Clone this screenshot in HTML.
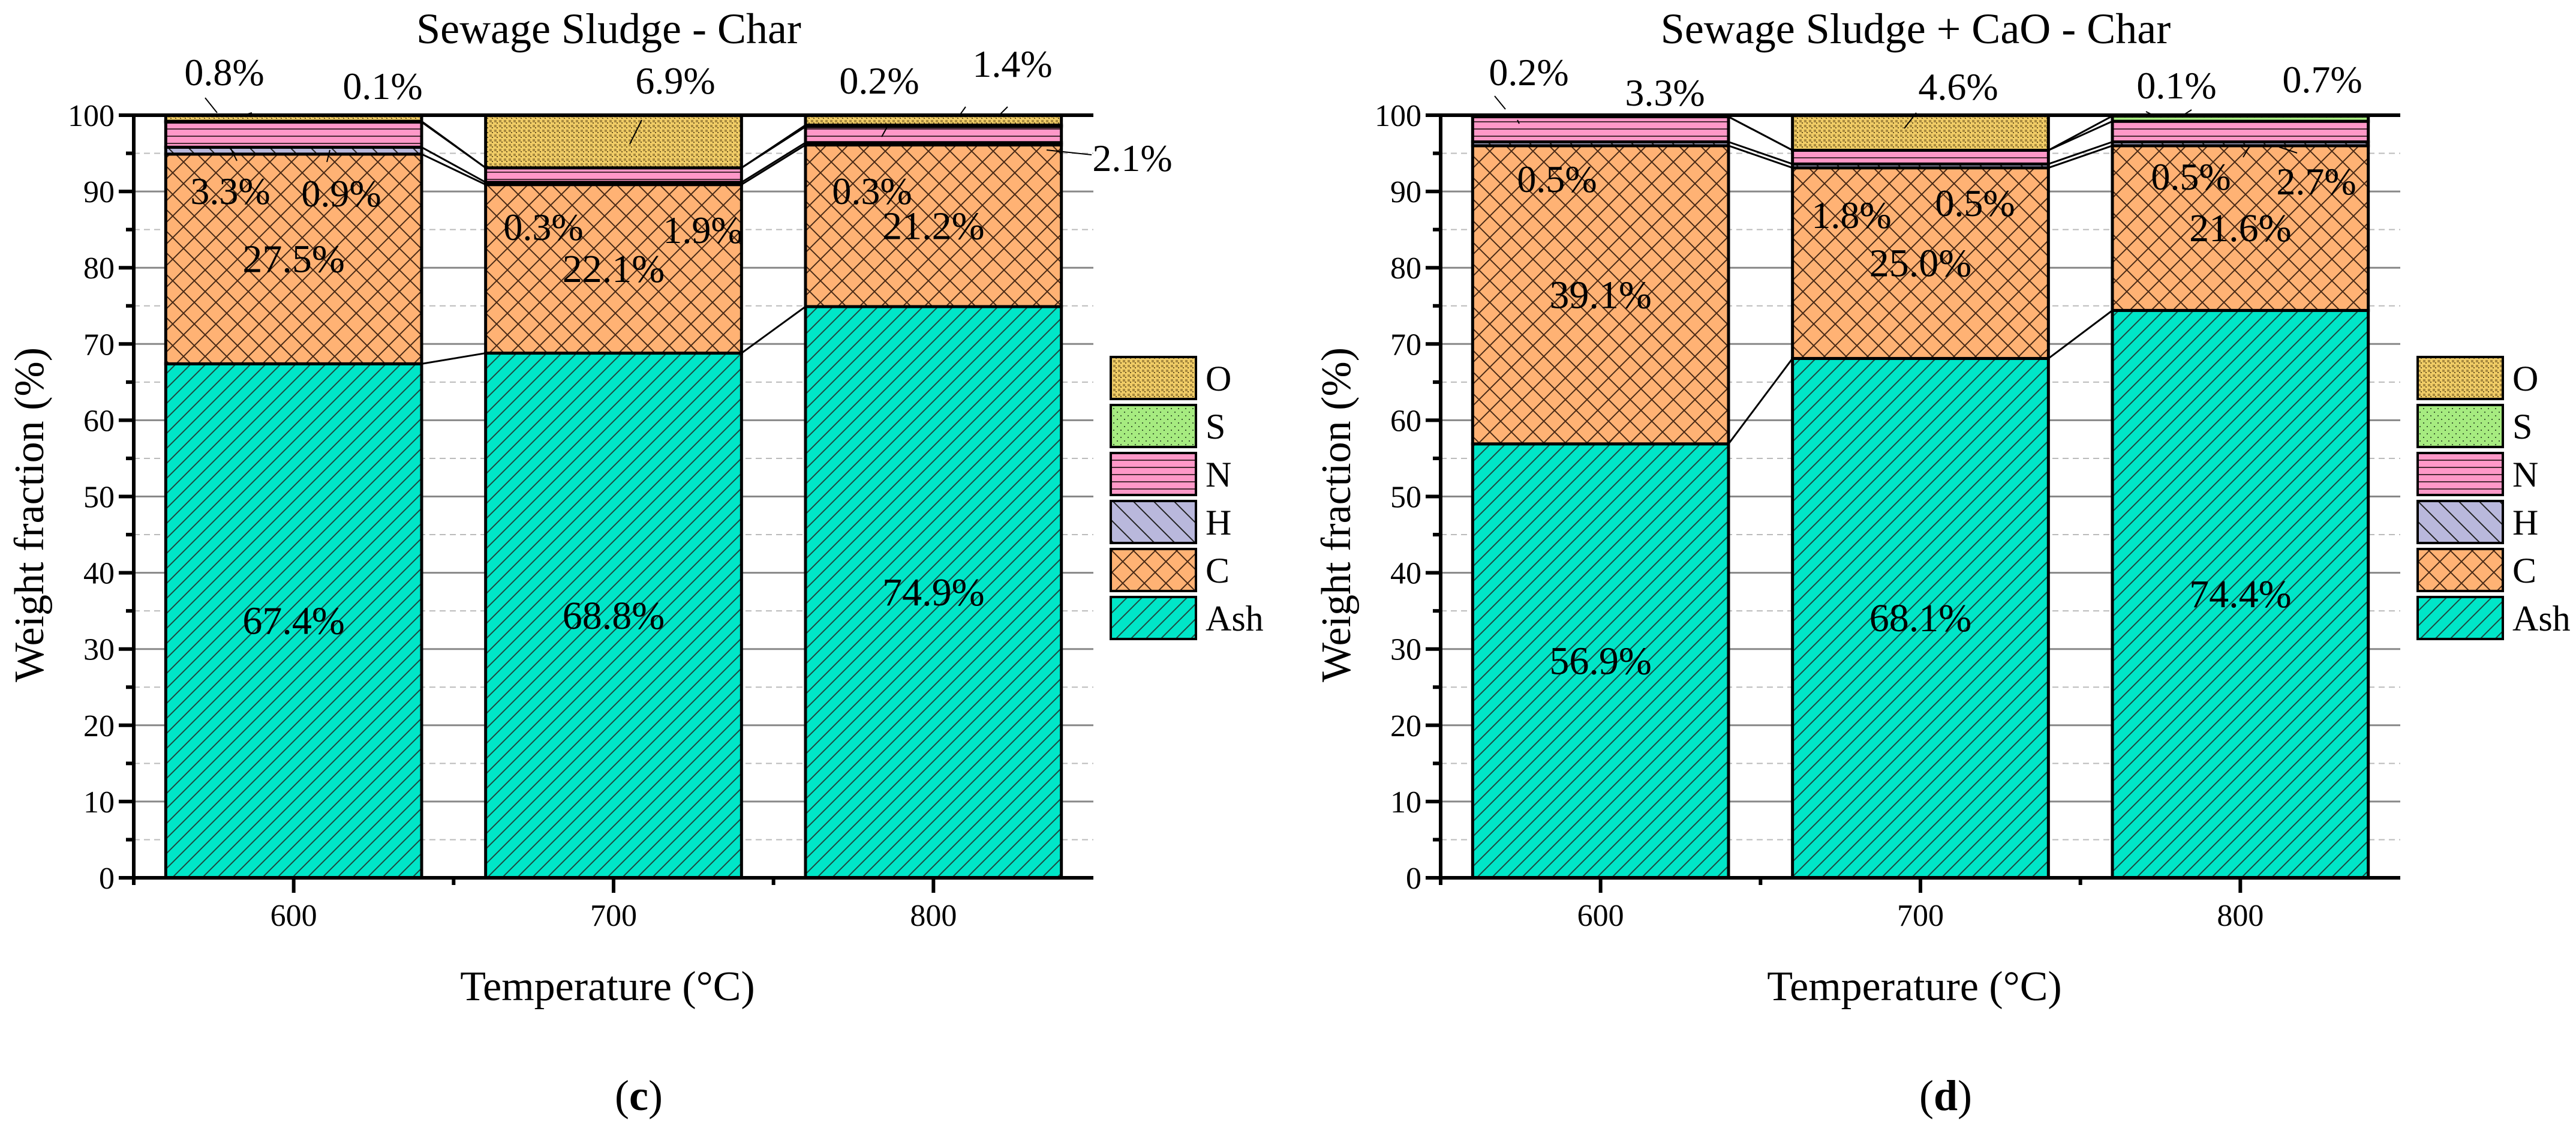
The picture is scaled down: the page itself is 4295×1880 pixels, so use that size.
<!DOCTYPE html>
<html><head><meta charset="utf-8">
<style>
html,body{margin:0;padding:0;background:#fff;}
svg{display:block;}
svg text{font-family:"Liberation Serif","DejaVu Serif",serif !important;}
</style></head>
<body>
<svg id="fig" width="4295" height="1880" viewBox="0 0 4295 1880" xmlns="http://www.w3.org/2000/svg">
<defs>
  <pattern id="pAsh" patternUnits="userSpaceOnUse" width="25" height="25">
    <rect width="25" height="25" fill="#00e6c8"/>
    <path d="M-5,30 L30,-5 M-5,5 L5,-5 M20,30 L30,20" stroke="#1d4a40" stroke-width="2"/>
  </pattern>
  <pattern id="pC" patternUnits="userSpaceOnUse" width="36" height="36">
    <rect width="36" height="36" fill="#ffb274"/>
    <path d="M0,0 L36,36 M36,0 L0,36" stroke="#4a2a15" stroke-width="2"/>
  </pattern>
  <pattern id="pH" patternUnits="userSpaceOnUse" width="34" height="34">
    <rect width="34" height="34" fill="#b9b8dc"/>
    <path d="M0,0 L34,34 M-5,29 L5,39 M29,-5 L39,5" stroke="#222" stroke-width="2"/>
  </pattern>
  <pattern id="pN" patternUnits="userSpaceOnUse" width="20" height="12">
    <rect width="20" height="12" fill="#ff98c8"/>
    <rect y="10" width="20" height="2" fill="#4a2a35"/>
  </pattern>
  <pattern id="pS" patternUnits="userSpaceOnUse" width="12" height="12">
    <rect width="12" height="12" fill="#a6eb80"/>
    <rect x="2" y="2" width="2" height="2" fill="#3a5a30"/>
    <rect x="8" y="8" width="2" height="2" fill="#3a5a30"/>
  </pattern>
  <pattern id="pO" patternUnits="userSpaceOnUse" width="8" height="8">
    <rect width="8" height="8" fill="#f0cc66"/>
    <rect x="0" y="0" width="4" height="4" fill="#8a7030" opacity="0.7"/>
    <rect x="4" y="4" width="2" height="2" fill="#6a5420"/>
  </pattern>
</defs>
</svg>
<script>
// ---- data ----
const categories = [600, 700, 800];
const seriesNames = ["Ash", "C", "H", "N", "S", "O"];
const ashC = [67.4, 68.8, 74.9];
const carbonC = [27.5, 22.1, 21.2];
const hydrogenC = [0.9, 0.3, 0.3];
const nitrogenC = [3.3, 1.9, 2.1];
const sulfurC = [0.1, 0.0, 0.2];
const oxygenC = [0.8, 6.9, 1.4];
const ashD = [56.9, 68.1, 74.4];
const carbonD = [39.1, 25.0, 21.6];
const hydrogenD = [0.5, 0.5, 0.5];
const nitrogenD = [3.3, 1.8, 2.7];
const sulfurD = [0.0, 0.0, 0.7];
const oxygenD = [0.2, 4.6, 0.1];
const yTicks = [0, 10, 20, 30, 40, 50, 60, 70, 80, 90, 100];
const titles = ["Sewage Sludge - Char", "Sewage Sludge + CaO - Char"];
const panelLetters = ["c", "d"];

const NS = "http://www.w3.org/2000/svg";
const svg = document.getElementById("fig");
function mk(tag, attrs, parent, txt) {
  const e = document.createElementNS(NS, tag);
  for (const k in attrs) e.setAttribute(k, attrs[k]);
  if (txt !== undefined) e.textContent = txt;
  (parent || svg).appendChild(e);
  return e;
}
const fills = {Ash:"url(#pAsh)", C:"url(#pC)", H:"url(#pH)", N:"url(#pN)", S:"url(#pS)", O:"url(#pO)"};

function panel(ox, data, title, letter, outLabels, leaders) {
  const g = mk("g", {});
  
  
  const axL = ox + 223, axR = ox + 1823, y0 = 1463, y100 = 192;
  const yS = v => y0 - (y0 - y100) * v / 100;
  const xS = v => axL + (v - 550) / 300 * (axR - axL);
  const bw = (xS(700) - xS(600)) * 0.8;
  for (let v = 5; v < 100; v += 10) {
    const l = mk("line", {x1:axL, x2:axR, y1:yS(v), y2:yS(v), stroke:"#bbb", "stroke-width":2, "stroke-dasharray":"10,7"}, g);
    
    
  }
  for (let i = 1; i < yTicks.length - 1; i++) {
    const l = mk("line", {x1:axL, x2:axR, y1:yS(yTicks[i]), y2:yS(yTicks[i]), stroke:"#888", "stroke-width":3}, g);
    
    
  }
  const bars = mk("g", {}, g);
  
  
  const cums = [];
  categories.forEach((c, i) => {
    let cum = 0; const bounds = [0];
    seriesNames.forEach((s, k) => {
      const v = data[k][i];
      if (v > 0) {
        const r = mk("rect", {x:xS(c) - bw/2, y:yS(Math.min(cum + v, 100)), width:bw, height:yS(cum) - yS(Math.min(cum + v, 100)), fill:fills[s], stroke:"#000", "stroke-width":5}, bars);
        
        
      }
      cum += v; bounds.push(Math.min(cum, 100));
    });
    cums.push(bounds);
  });
  for (let i = 0; i < categories.length - 1; i++) {
    for (let k = 1; k < seriesNames.length; k++) {
      const l = mk("line", {x1:xS(categories[i]) + bw/2, y1:yS(cums[i][k]), x2:xS(categories[i+1]) - bw/2, y2:yS(cums[i+1][k]), stroke:"#000", "stroke-width":3}, g);
      
      
    }
  }
  categories.forEach((c, i) => {
    const t1 = mk("text", {x:xS(c), y:yS(data[0][i]/2) + 22, "font-size":66, "text-anchor":"middle"}, g, data[0][i].toFixed(1) + "%");
    
    
    const t2 = mk("text", {x:xS(c), y:yS(data[0][i] + data[1][i]/2) + 22, "font-size":66, "text-anchor":"middle"}, g, data[1][i].toFixed(1) + "%");
    
    
  });
  outLabels.forEach(o => {
    const t = mk("text", {x:ox + o[2], y:o[3], "font-size":64, "text-anchor":"middle"}, g, data[o[1]][o[0]].toFixed(1) + "%");
    
    
  });
  leaders.forEach(p => {
    const l = mk("line", {x1:ox + p[0], y1:p[1], x2:ox + p[2], y2:p[3], stroke:"#000", "stroke-width":2}, g);
    
    
  });
  const ya = mk("line", {x1:axL, x2:axL, y1:y100 - 3, y2:y0 + 12, stroke:"#000", "stroke-width":6}, g);
  
  
  const xa = mk("line", {x1:axL - 25, x2:axR, y1:y0, y2:y0, stroke:"#000", "stroke-width":6}, g);
  
  
  const top = mk("line", {x1:axL - 25, x2:axR, y1:y100, y2:y100, stroke:"#000", "stroke-width":6}, g);
  
  
  yTicks.forEach(v => {
    const tk = mk("line", {x1:axL - 25, x2:axL, y1:yS(v), y2:yS(v), stroke:"#000", "stroke-width":6}, g);
    
    
    const tl = mk("text", {x:axL - 32, y:yS(v) + 18, "font-size":52, "text-anchor":"end"}, g, String(v));
    
    
  });
  for (let v = 5; v < 100; v += 10) {
    const tk = mk("line", {x1:axL - 13, x2:axL, y1:yS(v), y2:yS(v), stroke:"#000", "stroke-width":6}, g);
    
    
  }
  categories.forEach(c => {
    const tk = mk("line", {x1:xS(c), x2:xS(c), y1:y0, y2:y0 + 25, stroke:"#000", "stroke-width":6}, g);
    
    
    const tl = mk("text", {x:xS(c), y:y0 + 80, "font-size":52, "text-anchor":"middle"}, g, String(c));
    
    
  });
  [650, 750].forEach(v => {
    const tk = mk("line", {x1:xS(v), x2:xS(v), y1:y0, y2:y0 + 12, stroke:"#000", "stroke-width":6}, g);
    
    
  });
  const tt = mk("text", {x:ox + 1015, y:72, "font-size":72, "text-anchor":"middle"}, g, title);
  
  
  const xt = mk("text", {x:ox + 1013, y:1667, "font-size":70, "text-anchor":"middle"}, g, "Temperature (°C)");
  
  
  const yt = mk("text", {x:0, y:0, "font-size":70, "text-anchor":"middle", transform:"translate(" + (ox + 72) + ",858) rotate(-90)"}, g, "Weight fraction (%)");
  
  
  const pl = mk("text", {x:ox + 1065, y:1850, "font-size":72, "text-anchor":"middle"}, g);
  
  
  mk("tspan", {}, pl, "(");
  mk("tspan", {"font-weight":"bold"}, pl, letter);
  mk("tspan", {}, pl, ")");
  const lg = mk("g", {}, g);
  
  
  const order = ["O", "S", "N", "H", "C", "Ash"];
  order.forEach((s, j) => {
    const y = 595 + j * 80;
    const r = mk("rect", {x:ox + 1852, y:y, width:142, height:70, fill:fills[s], stroke:"#000", "stroke-width":4}, lg);
    
    
    const t = mk("text", {x:ox + 2010, y:y + 56, "font-size":60}, lg, s);
    
    
  });
}

panel(0, [ashC, carbonC, hydrogenC, nitrogenC, sulfurC, oxygenC], titles[0], panelLetters[0],
  [[0,5,374,142],[0,4,638,165],[2,3,1888,285],[0,3,384,340],[0,2,569,344],[1,5,1126,156],
   [2,4,1466,156],[2,5,1688,128],[1,2,906,400],[1,3,1172,405],[2,2,1454,340]],
  [[342,163,362,188],[420,188,400,194],[1820,258,1745,250],[550,250,545,270],[385,248,395,268],
   [1070,200,1050,240],[1610,178,1600,192],[1680,178,1668,190],[1480,210,1470,228]]);
panel(2179, [ashD, carbonD, hydrogenD, nitrogenD, sulfurD, oxygenD], titles[1], panelLetters[1],
  [[0,5,2549-2179,142],[0,3,2776-2179,176],[1,5,3265-2179,166],[2,5,3629-2179,164],[2,4,3872-2179,154],
   [0,2,2596-2179,320],[1,3,3087-2179,380],[1,2,3293-2179,360],[2,2,3653-2179,316],[2,3,3862-2179,324]],
  [[2492-2179,160,2510-2179,182],[2533-2179,206,2530-2179,200],[3195-2179,188,3175-2179,214],
   [3578-2179,186,3590-2179,192],[3654-2179,183,3640-2179,192],[3750-2179,245,3740-2179,262],[3830-2179,255,3800-2179,245]]);
</script>
</body></html>
